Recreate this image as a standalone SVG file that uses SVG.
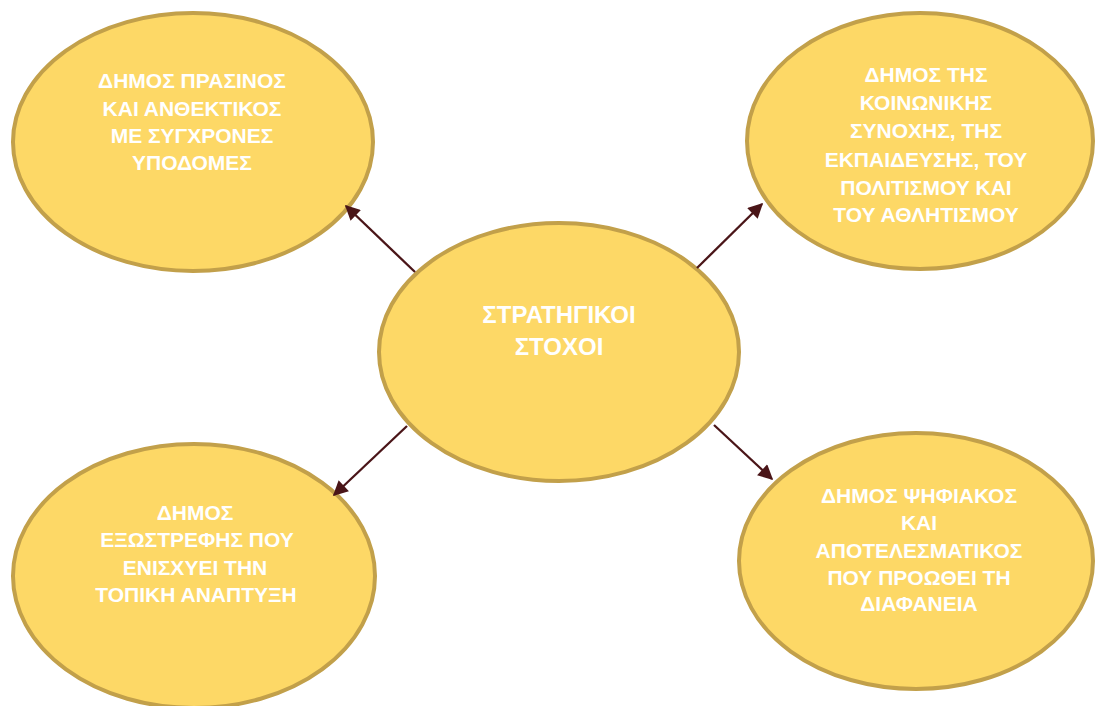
<svg xmlns="http://www.w3.org/2000/svg" width="1099" height="706" viewBox="0 0 1099 706">
<style>
.node ellipse{fill:#FDD866;stroke:#C2A04A;stroke-width:4}
.node text{font-family:"Liberation Sans",Arial,sans-serif;font-weight:bold;font-size:21px;fill:#FFFFFF;text-anchor:middle}
#n-c text{font-size:24px}
.conn line{stroke:#4A1518;stroke-width:2.3;marker-end:url(#ah)}
</style>
<defs>
<marker id="ah" viewBox="0 0 10 10" refX="9" refY="5" markerWidth="7" markerHeight="6.5" orient="auto" markerUnits="strokeWidth">
<path d="M0,0 L10,5 L0,10 z" fill="#4A1518"/>
</marker>
</defs>
<rect width="1099" height="706" fill="#FFFFFF"/>
<g id="n-tl" class="node">
<ellipse cx="193" cy="142" rx="180" ry="129"/>
<text x="192" y="88">ΔΗΜΟΣ ΠΡΑΣΙΝΟΣ</text>
<text x="192" y="116">ΚΑΙ ΑΝΘΕΚΤΙΚΟΣ</text>
<text x="192" y="143">ΜΕ ΣΥΓΧΡΟΝΕΣ</text>
<text x="192" y="170">ΥΠΟΔΟΜΕΣ</text>
</g>
<g id="n-tr" class="node">
<ellipse cx="920" cy="141" rx="173" ry="128"/>
<text x="926" y="82">ΔΗΜΟΣ ΤΗΣ</text>
<text x="926" y="110">ΚΟΙΝΩΝΙΚΗΣ</text>
<text x="926" y="138">ΣΥΝΟΧΗΣ, ΤΗΣ</text>
<text x="926" y="167">ΕΚΠΑΙΔΕΥΣΗΣ, ΤΟΥ</text>
<text x="926" y="195">ΠΟΛΙΤΙΣΜΟΥ ΚΑΙ</text>
<text x="926" y="222">ΤΟΥ ΑΘΛΗΤΙΣΜΟΥ</text>
</g>
<g id="n-c" class="node">
<ellipse cx="559" cy="352" rx="180" ry="129"/>
<text x="559" y="323">ΣΤΡΑΤΗΓΙΚΟΙ</text>
<text x="559" y="355">ΣΤΟΧΟΙ</text>
</g>
<g id="n-bl" class="node">
<ellipse cx="194" cy="576" rx="181" ry="132"/>
<text x="195" y="520">ΔΗΜΟΣ</text>
<text x="197" y="547">ΕΞΩΣΤΡΕΦΗΣ ΠΟΥ</text>
<text x="195" y="575">ΕΝΙΣΧΥΕΙ ΤΗΝ</text>
<text x="196" y="602">ΤΟΠΙΚΗ ΑΝΑΠΤΥΞΗ</text>
</g>
<g id="n-br" class="node">
<ellipse cx="916" cy="561" rx="177" ry="128"/>
<text x="919" y="503">ΔΗΜΟΣ ΨΗΦΙΑΚΟΣ</text>
<text x="919" y="530">ΚΑΙ</text>
<text x="919" y="558">ΑΠΟΤΕΛΕΣΜΑΤΙΚΟΣ</text>
<text x="919" y="585">ΠΟΥ ΠΡΟΩΘΕΙ ΤΗ</text>
<text x="919" y="611">ΔΙΑΦΑΝΕΙΑ</text>
</g>
<g id="connectors" class="conn">
<line x1="415" y1="272" x2="346" y2="206"/>
<line x1="697" y1="268" x2="762" y2="204"/>
<line x1="407" y1="426" x2="334" y2="495"/>
<line x1="714" y1="425" x2="772" y2="479"/>
</g>
</svg>
